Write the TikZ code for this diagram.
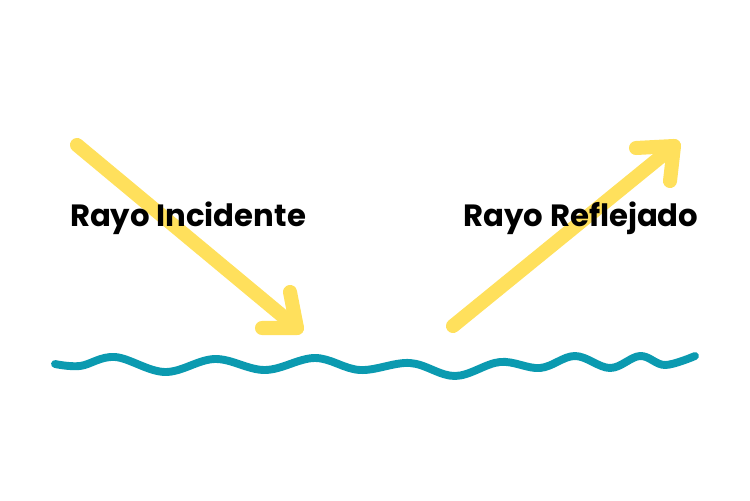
\documentclass[tikz,border=0pt]{standalone}
\usepackage{fontspec}
\setmainfont{Poppins}
\definecolor{sunray}{HTML}{FFE05C}
\definecolor{sea}{HTML}{0B9AB0}
\tikzset{ray/.style={sunray,line width=8pt,line cap=round,line join=round},
  label/.style={font=\fontsize{17.5}{20}\selectfont\bfseries}}
\begin{document}
\begin{tikzpicture}
[x=0.02cm,y=-0.02cm]
\useasboundingbox (0,0) rectangle (750,500);
\coordinate (i1) at (77,145);
\coordinate (i2) at (297,328);
\coordinate (i3) at (262,328);
\coordinate (i4) at (290,292);
\coordinate (r1) at (453,326);
\coordinate (r2) at (674,146);
\coordinate (r3) at (636,148);
\coordinate (r4) at (670,181);

\draw[ray] (i1) -- (i2);
\draw[ray] (i3) -- (i2) -- (i4);
\draw[ray] (r1) -- (r2);
\draw[ray] (r3) -- (r2) -- (r4);

\node[label] (inc) at (188,218) {Rayo Incidente};
\node[label] (ref) at (581,218) {Rayo Reflejado};

\draw[sea,line width=4.5pt,line cap=round] plot[smooth,tension=0.6] coordinates
{(55,364) (80,366) (115,357) (165,372) (215,359) (265,370) (315,358) (360,370) (410,363)
 (455,376) (500,362) (540,368) (575,356) (610,368) (640,356) (665,365) (695,356)};
\end{tikzpicture}
\end{document}
